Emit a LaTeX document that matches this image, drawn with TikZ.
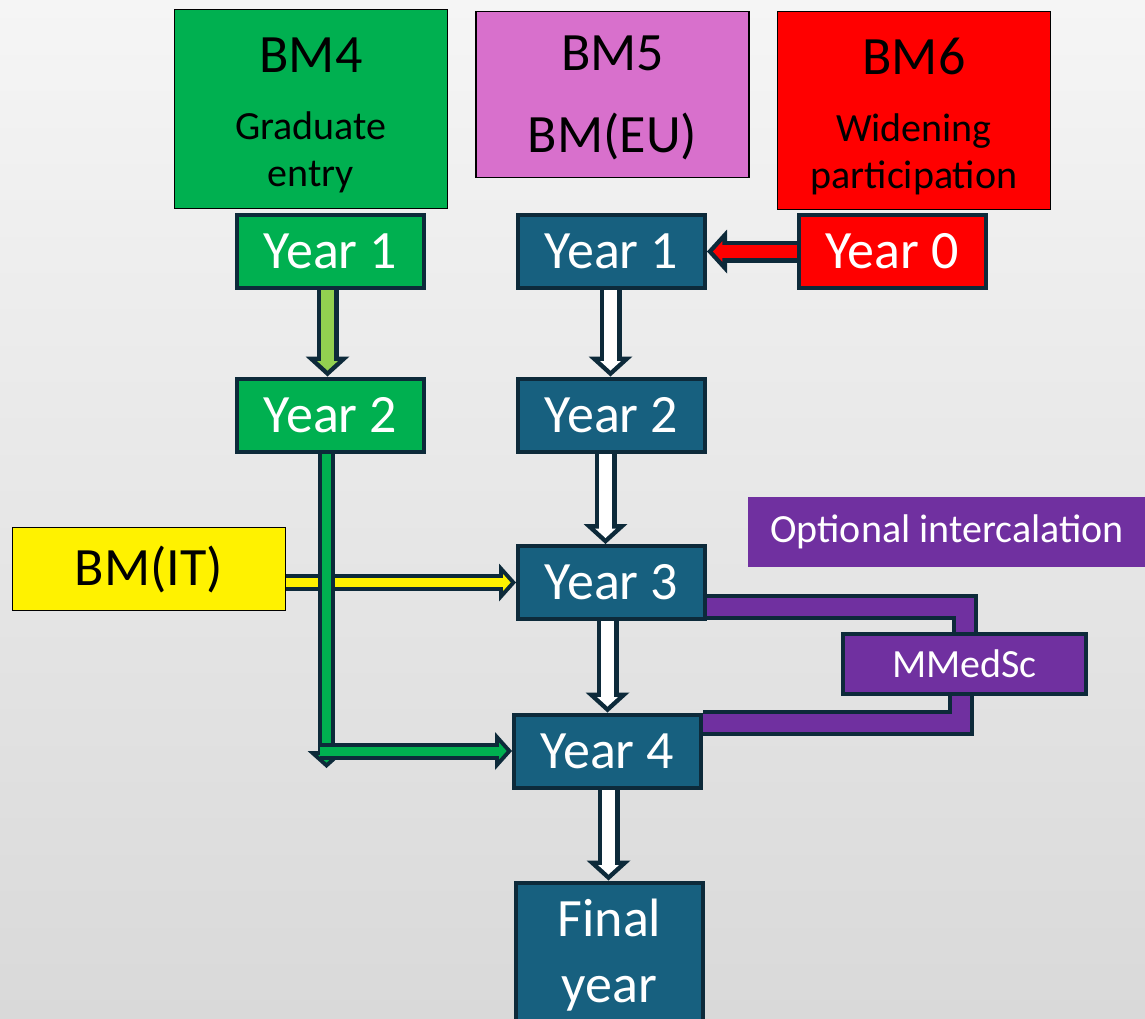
\documentclass[tikz,border=0pt]{standalone}
\usepackage{fontspec}
\setmainfont{Carlito}
\usetikzlibrary{arrows.meta}

\pgfdeclarelayer{background}
\pgfdeclarelayer{pipes}
\pgfsetlayers{background,pipes,main}

\definecolor{rim}{HTML}{0D2A3A}
\definecolor{bmgreen}{HTML}{00B050}
\definecolor{lightgreen}{HTML}{92D050}
\definecolor{yearblue}{HTML}{17607F}
\definecolor{orchid}{HTML}{D870CC}
\definecolor{purp}{HTML}{7030A0}
\definecolor{bgtop}{HTML}{F5F5F5}
\definecolor{bgbot}{HTML}{D9D9D9}

\newcommand{\bigtxt}{\fontsize{27}{33}\selectfont}
\newcommand{\smalltxt}{\fontsize{20}{24}\selectfont}

\begin{document}
\begin{tikzpicture}[
    x=0.5pt, y=-0.5pt,
    headbox/.style={draw=black, line width=0.6pt, minimum width=136.5pt, inner sep=0pt, align=center, font=\bigtxt},
    yearbox/.style={draw=rim, line width=2pt, minimum width=93.5pt, minimum height=36.5pt, inner sep=0pt, align=center, text=white, font=\bigtxt, fill=yearblue},
    blockarrow/.style={draw=rim, line width=11pt, -{Triangle[width=22pt,length=10pt,line width=0pt]},
        postaction={draw=#1, line width=6.5pt, shorten >=3pt, -{Triangle[width=10.3pt,length=4.7pt,line width=0pt]}}},
    slimarrow/.style={draw=rim, line width=8.5pt, -{Triangle[width=19pt,length=8.5pt,line width=0pt]},
        postaction={draw=#1, line width=4.5pt, shorten >=2.7pt, -{Triangle[width=8.5pt,length=3.8pt,line width=0pt]}}},
    band/.style={draw=rim, line width=13pt, postaction={draw=purp, line width=9pt}}
]
\useasboundingbox (0,0) rectangle (1145,1018);
\begin{pgfonlayer}{background}
\shade[top color=bgtop, bottom color=bgbot] (0,0) rectangle (1145,1018);
\end{pgfonlayer}

% entry routes
\node[headbox, fill=bmgreen, minimum height=99.5pt] (bmfour) at (311,109) {\rule{0pt}{24pt}BM4\\[0.5pt]\smalltxt Graduate\\[-9.5pt]\smalltxt entry};
\node[headbox, fill=orchid, minimum height=83pt] (bmfive) at (612.5,94.5) {\rule{0pt}{21pt}BM5\\[8pt]BM(EU)};
\node[headbox, fill=red, minimum height=99pt] (bmsix) at (914,110.5) {\rule{0pt}{24pt}BM6\\[0.5pt]\smalltxt Widening\\[-9.5pt]\smalltxt participation};
\node[headbox, fill=yellow, minimum height=41.5pt] (bmit) at (149,569) {BM(IT)};

% years
\node[yearbox, fill=bmgreen] (gone) at (330.5,251.5) {Year 1};
\node[yearbox, fill=bmgreen] (gtwo) at (330.5,415) {Year 2};
\node[yearbox] (yone) at (611.5,251.5) {Year 1};
\node[yearbox] (ytwo) at (611.5,415) {Year 2};
\node[yearbox, fill=red] (yzero) at (892,251.5) {Year 0};
\node[yearbox] (ythree) at (611.5,582.5) {Year 3};
\node[yearbox] (yfour) at (607.5,751) {Year 4};
\node[yearbox, minimum height=73pt] (yfinal) at (609.5,955.5) {Final\\year};

% intercalation
\node[fill=purp, text=white, font=\smalltxt, minimum width=199pt, minimum height=35pt, inner sep=0pt] (optint) at (947,532) {Optional intercalation};
\node[draw=rim, line width=2pt, fill=purp, text=white, font=\smalltxt, minimum width=121.5pt, minimum height=30pt, inner sep=0pt] (mmedsc) at (964.5,664) {MMedSc};

\coordinate (gtip) at (326.5,768);
\coordinate (gbend) at (320,751);

\begin{pgfonlayer}{pipes}
\draw[blockarrow=lightgreen] ([xshift=-1.5pt]gone.south) -- ([xshift=-1.5pt]gtwo.north);
\draw[blockarrow=white] ([xshift=-0.5pt]yone.south) -- ([xshift=-0.5pt]ytwo.north);
\draw[blockarrow=white] ([xshift=-3pt]ytwo.south) -- ([xshift=-3pt]ythree.north);
\draw[blockarrow=white] (ythree.south -| yfour) -- (yfour.north);
\draw[blockarrow=white] ([xshift=0.5pt]yfour.south) -- ([xshift=0.5pt]yfour.south |- yfinal.north);
\draw[blockarrow=red] (yzero.west) -- (yone.east);
\draw[slimarrow=yellow] (bmit.east |- ythree) -- (ythree.west);
\draw[slimarrow=bmgreen] ([xshift=-2pt]gtwo.south) -- (gtip);
\draw[slimarrow=bmgreen] (gbend) -- (yfour.west);
\draw[band] ([yshift=7pt]ythree.south east) -| (mmedsc.north);
\draw[band] ([xshift=-2pt]mmedsc.south) |- ([yshift=-5pt]yfour.north east);
\end{pgfonlayer}
\end{tikzpicture}
\end{document}
